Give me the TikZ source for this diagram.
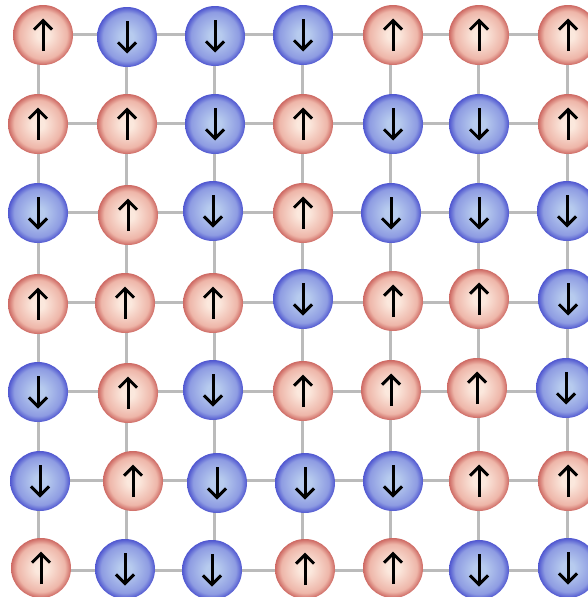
\documentclass[tikz,border=0pt]{standalone}
\usetikzlibrary{arrows.meta}
\definecolor{redin}{HTML}{FBE8DD}
\definecolor{redmid}{HTML}{EEB6A9}
\definecolor{redout}{HTML}{CD6862}
\definecolor{bluein}{HTML}{B7CBEE}
\definecolor{bluemid}{HTML}{8E9CE2}
\definecolor{blueout}{HTML}{4F56D0}
\definecolor{gridgray}{HTML}{BBBBBB}
\pgfdeclareradialshading{spinred}{\pgfpoint{0bp}{0bp}}{color(0bp)=(redin); color(5bp)=(redin); color(20bp)=(redmid); color(25bp)=(redout); color(50bp)=(redout)}
\pgfdeclareradialshading{spinblue}{\pgfpoint{0bp}{0bp}}{color(0bp)=(bluein); color(5bp)=(bluein); color(20bp)=(bluemid); color(25bp)=(blueout); color(50bp)=(blueout)}
\tikzset{
  gridline/.style={draw=gridgray, line width=3pt},
  spinarrow/.style={draw=black, line width=3pt, -{Straight Barb[length=9pt,width=18pt]}},
  spinball/.style={circle, minimum size=60pt, inner sep=0pt},
  spinu/.style={spinball, shading=spinred, path picture={
    \draw[spinarrow] ([yshift=-16pt]path picture bounding box.center) -- ([yshift=16.5pt]path picture bounding box.center);}},
  spind/.style={spinball, shading=spinblue, path picture={
    \draw[spinarrow] ([yshift=16pt]path picture bounding box.center) -- ([yshift=-16.5pt]path picture bounding box.center);}}
}
\begin{document}
\begin{tikzpicture}[x=1pt,y=-1pt]
\useasboundingbox (0,0) rectangle (587,597);
% grid points
\foreach \c/\gx in {1/38,2/126.2,3/214.3,4/302.5,5/390.7,6/478.8,7/567}{
  \foreach \r/\gy in {1/34,2/123.3,3/212.7,4/302,5/391.3,6/480.7,7/570}{
    \coordinate (g-\r-\c) at (\gx,\gy);
  }
}
% horizontal lines
\foreach \r in {1,...,7}{
  \foreach \c [evaluate=\c as \n using int(\c+1)] in {1,...,6}{
    \draw[gridline] (g-\r-\c) -- (g-\r-\n);
  }
}
% vertical lines
\foreach \c in {1,...,7}{
  \foreach \r [evaluate=\r as \n using int(\r+1)] in {1,...,6}{
    \draw[gridline] (g-\r-\c) -- (g-\n-\c);
  }
}
% spins
\foreach \r/\c/\x/\y/\s in {
 1/1/43/35/u, 1/2/127/37/d, 1/3/215/36/d, 1/4/303/35/d, 1/5/393/35/u, 1/6/479/35/u, 1/7/568/35/u,
 2/1/38/124/u, 2/2/127/124/u, 2/3/215/124/d, 2/4/303/124/u, 2/5/393/124/d, 2/6/479/124/d, 2/7/568/124/u,
 3/1/38/213/d, 3/2/128/215/u, 3/3/213/211/d, 3/4/303/213/u, 3/5/391/213/d, 3/6/479/213/d, 3/7/567/211/d,
 4/1/38/304/u, 4/2/125/303/u, 4/3/213/303/u, 4/4/303/299/d, 4/5/393/301/u, 4/6/479/299/u, 4/7/568/299/d,
 5/1/38/392/d, 5/2/128/393/u, 5/3/213/390/d, 5/4/303/391/u, 5/5/391/390/u, 5/6/477/388/u, 5/7/566/388/d,
 6/1/40/481/d, 6/2/133/481/u, 6/3/217/483/d, 6/4/305/483/d, 6/5/393/481/d, 6/6/479/481/u, 6/7/568/481/u,
 7/1/41/568/u, 7/2/125/569/d, 7/3/212/570/d, 7/4/305/569/u, 7/5/393/568/u, 7/6/479/570/d, 7/7/568/568/d}{
  \node[spin\s] (s-\r-\c) at (\x,\y) {};
}
\end{tikzpicture}
\end{document}
